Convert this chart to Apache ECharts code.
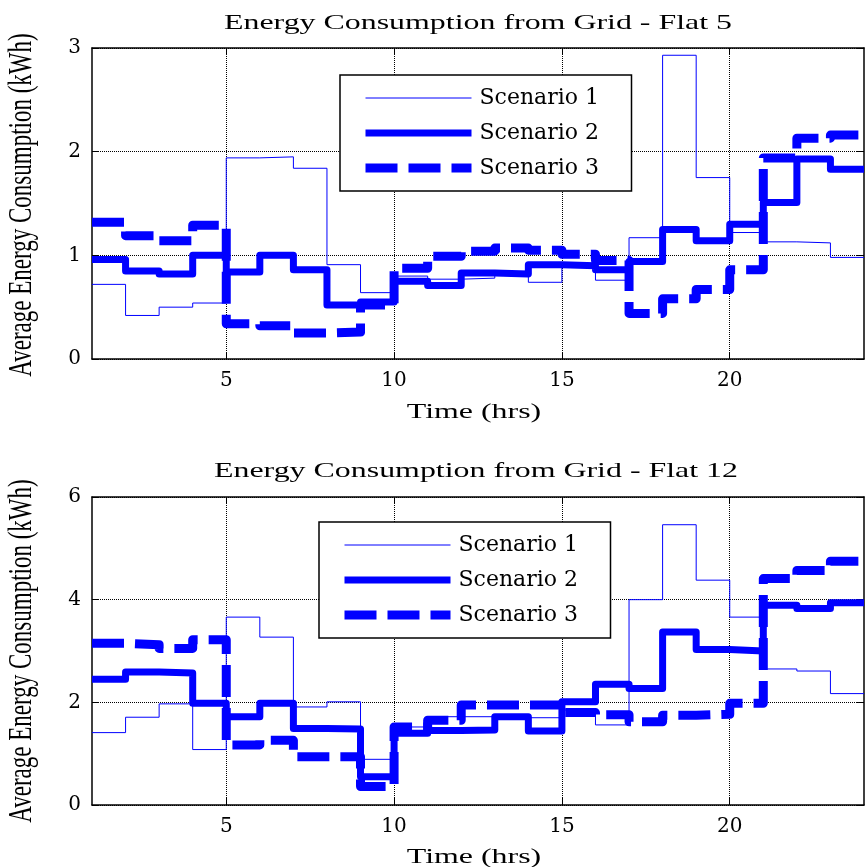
<!DOCTYPE html>
<html>
<head>
<meta charset="utf-8">
<script src="https://cdn.jsdelivr.net/npm/echarts@6/dist/echarts.min.js"></script>
<style>
  html, body { margin: 0; padding: 0; background: #fff; }
  #chart { width: 866px; height: 867px; }
</style>
</head>
<body>
<div id="chart"></div>
<script>
// hourly values, each held from hour h to h+1 (h = 1..23)
const hours = [1, 2, 3, 4, 5, 6, 7, 8, 9, 10, 11, 12, 13, 14, 15, 16, 17, 18, 19, 20, 21, 22, 23, 24]
const xTicks = [5, 10, 15, 20]
const scenarioNames = ['Scenario 1', 'Scenario 2', 'Scenario 3']

// Flat 5
const flat5S1 = [0.72, 0.42, 0.50, 0.54, 1.94, 1.95, 1.84, 0.91, 0.64, 0.80, 0.77, 0.78, 0.82, 0.74, 0.89, 0.76, 1.17, 2.93, 1.75, 1.22, 1.13, 1.12, 0.98]
const flat5S2 = [0.96, 0.85, 0.82, 1.00, 0.84, 1.00, 0.86, 0.52, 0.55, 0.75, 0.71, 0.83, 0.82, 0.91, 0.90, 0.86, 0.94, 1.25, 1.14, 1.30, 1.51, 1.93, 1.83]
const flat5S3 = [1.32, 1.19, 1.14, 1.29, 0.34, 0.32, 0.25, 0.26, 0.52, 0.875, 0.99, 1.04, 1.07, 1.05, 1.01, 0.95, 0.44, 0.58, 0.67, 0.86, 1.94, 2.13, 2.16]

// Flat 12
const flat12S1 = [1.41, 1.71, 1.97, 1.08, 3.66, 3.27, 1.91, 2.01, 0.89, 1.52, 1.72, 1.72, 1.74, 1.70, 1.85, 1.56, 4.00, 5.46, 4.38, 3.66, 2.65, 2.61, 2.17]
const flat12S2 = [2.45, 2.59, 2.57, 1.98, 1.72, 1.98, 1.49, 1.48, 0.55, 1.40, 1.45, 1.46, 1.72, 1.44, 2.01, 2.35, 2.27, 3.37, 3.03, 3.00, 3.89, 3.83, 3.94]
const flat12S3 = [3.15, 3.12, 3.05, 3.22, 1.17, 1.26, 0.94, 0.94, 0.36, 1.52, 1.65, 1.95, 1.95, 1.95, 1.80, 1.76, 1.62, 1.75, 1.77, 1.98, 4.41, 4.57, 4.75]

const BLUE = '#0000ff'
const SERIF = '"Liberation Serif", "Times New Roman", serif'
const TICK_FONT = '"DejaVu Serif", serif'

// step data: last value held until hour 24
const toSteps = (vals) => hours.map((h, i) => [h, vals[Math.min(i, vals.length - 1)]])

const lineStyles = [
  { width: 1, type: 'solid' },
  { width: 7, type: 'solid' },
  { width: 9, type: [32, 11] }
]

const makeSeries = (sets, axisIdx) => sets.map((vals, i) => ({
  name: scenarioNames[i],
  type: 'line',
  step: 'end',
  xAxisIndex: axisIdx,
  yAxisIndex: axisIdx,
  symbol: 'none',
  data: toSteps(vals),
  itemStyle: { color: BLUE },
  lineStyle: {
    color: BLUE,
    width: lineStyles[i].width,
    type: lineStyles[i].type,
    cap: 'butt',
    join: 'round'
  }
}))

const frameLine = { show: true, onZero: false, lineStyle: { color: '#000', width: 1.5 } }
const tick = { show: true, inside: true, length: 7, lineStyle: { color: '#000' } }

const bottomX = (grid) => ({
  type: 'value', gridIndex: grid, min: 1, max: 24, position: 'bottom',
  axisLine: frameLine,
  axisTick: Object.assign({ customValues: xTicks }, tick),
  axisLabel: { customValues: xTicks, color: '#000', fontFamily: TICK_FONT, fontSize: 20, margin: 12 },
  splitLine: { show: true, lineStyle: { color: '#000', type: 'dotted', width: 1 } }
})
const topX = (grid) => ({
  type: 'value', gridIndex: grid, min: 1, max: 24, position: 'top',
  axisLine: frameLine,
  axisTick: Object.assign({ customValues: xTicks }, tick),
  axisLabel: { show: false },
  splitLine: { show: false }
})
const leftY = (grid, max, interval) => ({
  type: 'value', gridIndex: grid, min: 0, max: max, interval: interval, position: 'left',
  axisLine: frameLine,
  axisTick: tick,
  axisLabel: { color: '#000', fontFamily: TICK_FONT, fontSize: 20, margin: 11 },
  splitLine: { show: true, lineStyle: { color: '#000', type: 'dotted', width: 1 } }
})
const rightY = (grid, max, interval) => ({
  type: 'value', gridIndex: grid, min: 0, max: max, interval: interval, position: 'right',
  axisLine: frameLine,
  axisTick: tick,
  axisLabel: { show: false },
  splitLine: { show: false }
})

const legendBox = (left, top) => ({
  data: scenarioNames,
  orient: 'vertical',
  left: left,
  top: top,
  padding: [12, 20, 12, 21],
  itemWidth: 106,
  itemHeight: 20,
  itemGap: 13,
  backgroundColor: '#fff',
  borderColor: '#000',
  borderWidth: 1.5,
  borderRadius: 0,
  selectedMode: false,
  // line only, no marker on the legend sample
  itemStyle: { color: 'rgba(0,0,0,0)', borderWidth: 0, opacity: 0 },
  lineStyle: { width: 'inherit', opacity: 1 },
  textStyle: { color: '#000', fontFamily: TICK_FONT, fontSize: 22, width: 132, lineHeight: 20, padding: [0, 0, 0, 3] }
})

// titles and axis names, stretched like the original figure
const stretchedText = (text, x, y, size, opts) => Object.assign({
  type: 'text', x: x, y: y, z: 100,
  style: { text: text, font: size + 'px ' + SERIF, fill: '#000', align: 'center', verticalAlign: 'middle' }
}, opts)

const chart = echarts.init(document.getElementById('chart'))

chart.setOption({
  animation: false,
  backgroundColor: '#fff',
  grid: [
    { left: 92, right: 2, top: 48, height: 311 },
    { left: 92, right: 2, top: 497, height: 308 }
  ],
  xAxis: [bottomX(0), topX(0), bottomX(1), topX(1)],
  yAxis: [leftY(0, 3, 1), rightY(0, 3, 1), leftY(1, 6, 2), rightY(1, 6, 2)],
  legend: [legendBox(340, 75), legendBox(319, 522)],
  graphic: [
    stretchedText('Energy Consumption from Grid - Flat 5', 478, 23, 22, { scaleX: 1.45 }),
    stretchedText('Energy Consumption from Grid - Flat 12', 476, 471, 22, { scaleX: 1.45 }),
    stretchedText('Time (hrs)', 474, 412, 22, { scaleX: 1.45 }),
    stretchedText('Time (hrs)', 474, 857, 22, { scaleX: 1.45 }),
    stretchedText('Average Energy Consumption (kWh)', 22, 205, 23, { rotation: Math.PI / 2, scaleY: 1.45 }),
    stretchedText('Average Energy Consumption (kWh)', 22, 651, 23, { rotation: Math.PI / 2, scaleY: 1.45 })
  ],
  series: [
    ...makeSeries([flat5S1, flat5S2, flat5S3], 0),
    ...makeSeries([flat12S1, flat12S2, flat12S3], 2)
  ]
})
</script>
</body>
</html>
